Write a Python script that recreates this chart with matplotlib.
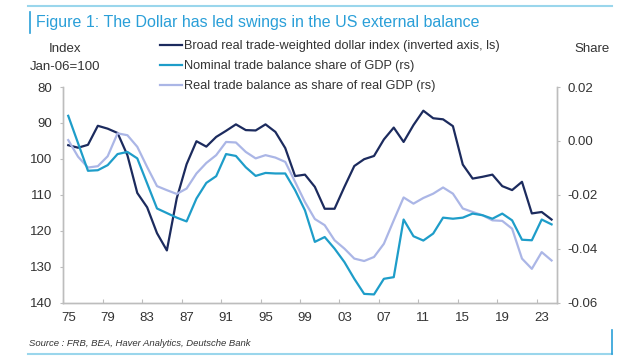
import numpy as np
import matplotlib
matplotlib.use("Agg")
import matplotlib.pyplot as plt
from matplotlib.lines import Line2D

plt.rcParams['font.family'] = ['Liberation Sans', 'DejaVu Sans']
plt.rcParams['axes.unicode_minus'] = False

# annual data, plotted at mid-year
years = np.arange(1975, 2025)

# Broad real trade-weighted dollar index (Jan-06=100), left axis inverted
dollar = [96.2, 96.9, 96.1, 90.8, 91.6, 92.8, 99.0, 109.5, 113.5, 120.7,
          125.5, 111.0, 101.5, 95.1, 96.6, 93.9, 92.2, 90.4, 92.0, 92.1,
          90.4, 92.5, 97.0, 104.8, 104.4, 107.8, 113.9, 113.9, 107.8, 102.0,
          100.1, 99.2, 94.6, 91.3, 95.3, 90.6, 86.6, 88.7, 89.0, 90.9,
          101.6, 105.5, 105.0, 104.4, 107.6, 108.7, 106.4, 115.2, 114.8, 116.9]

# nominal trade balance share of GDP
nominal = [0.0093, -0.0009, -0.0111, -0.0109, -0.0090, -0.0049, -0.0041, -0.0065, -0.0158, -0.0251,
           -0.0268, -0.0285, -0.0299, -0.0214, -0.0156, -0.0131, -0.0049, -0.0056, -0.0098, -0.0130,
           -0.0119, -0.0121, -0.0121, -0.0183, -0.0258, -0.0375, -0.0357, -0.0400, -0.0450, -0.0512,
           -0.0568, -0.0570, -0.0512, -0.0506, -0.0292, -0.0354, -0.0370, -0.0344, -0.0285, -0.0289,
           -0.0285, -0.0270, -0.0276, -0.0289, -0.0270, -0.0295, -0.0367, -0.0369, -0.0292, -0.0310]

# real trade balance as share of real GDP
real = [0.0003, -0.0059, -0.0099, -0.0094, -0.0057, 0.0028, 0.0021, -0.0022, -0.0097, -0.0168,
        -0.0183, -0.0197, -0.0177, -0.0121, -0.0082, -0.0053, -0.0004, -0.0006, -0.0041, -0.0065,
        -0.0053, -0.0062, -0.0078, -0.0152, -0.0227, -0.0290, -0.0313, -0.0369, -0.0400, -0.0437,
        -0.0446, -0.0431, -0.0382, -0.0295, -0.0210, -0.0233, -0.0212, -0.0196, -0.0173, -0.0196,
        -0.0251, -0.0264, -0.0276, -0.0295, -0.0297, -0.0326, -0.0437, -0.0475, -0.0413, -0.0444]

xtick_years = np.arange(1975, 2024, 4)
xtick_labels = ['%02d' % (y % 100) for y in xtick_years]

c_dark = '#1c2b5e'
c_teal = '#1e9dc9'
c_lav = '#abb6e6'
c_blue = '#2a9fd8'
c_frame = '#9ad6ec'
c_spine = '#bdbdbd'
c_text = '#333333'

W, H = 630, 356
fig = plt.figure(figsize=(W / 100, H / 100), dpi=100)

def fx(x):
    return x / W

def fy(y):
    return 1 - y / H

ax = fig.add_axes([fx(63.3), fy(302.5), fx(556.5) - fx(63.3), fy(87) - fy(302.5)])
ax2 = ax.twinx()

xs = years + 0.5
l1, = ax.plot(xs, dollar, color=c_dark, lw=1.6, zorder=3)
l2, = ax2.plot(xs, nominal, color=c_teal, lw=1.6, zorder=2)
l3, = ax2.plot(xs, real, color=c_lav, lw=1.6, zorder=1)

ax.set_xlim(1975, 2025)
ax.set_ylim(140, 80)
ax.set_yticks([80, 90, 100, 110, 120, 130, 140])
ax2.set_ylim(-0.06, 0.02)
ax2.set_yticks([-0.06, -0.04, -0.02, 0.0, 0.02])
ax2.set_yticklabels(['%.2f' % v for v in [-0.06, -0.04, -0.02, 0.0, 0.02]])

# tick marks at year start, labels centred on the year
ax.set_xticks(xtick_years)
ax.set_xticklabels([])
ax.set_xticks(xtick_years + 0.5, minor=True)
ax.set_xticklabels(xtick_labels, minor=True)
ax.tick_params(axis='x', which='major', direction='in', length=3, color=c_spine)
ax.tick_params(axis='x', which='minor', length=0, pad=6.5, labelsize=9.5, labelcolor=c_text)
ax.tick_params(axis='y', direction='out', length=2.5, pad=5.6, color=c_spine,
               labelsize=9.5, labelcolor=c_text)
ax2.tick_params(axis='y', direction='out', length=2.5, pad=5.6, color=c_spine,
                labelsize=9.5, labelcolor=c_text)

for a in (ax, ax2):
    a.spines['top'].set_visible(False)
    for s in ('left', 'right', 'bottom'):
        a.spines[s].set_color(c_spine)
        a.spines[s].set_linewidth(1.0)
    a.patch.set_visible(False)

# axis captions
fig.text(fx(65), fy(49), 'Index', ha='center', va='center', fontsize=9.5, color=c_text)
fig.text(fx(65), fy(67), 'Jan-06=100', ha='center', va='center', fontsize=9.5, color=c_text)
fig.text(fx(592), fy(49), 'Share', ha='center', va='center', fontsize=9.5, color=c_text)

fig.legend([l1, l2, l3],
           ['Broad real trade-weighted dollar index (inverted axis, ls)',
            'Nominal trade balance share of GDP (rs)',
            'Real trade balance as share of real GDP (rs)'],
           loc='upper left', bbox_to_anchor=(fx(160), fy(40.5)), frameon=False,
           fontsize=9.2, handlelength=1.7, handletextpad=0.15, borderpad=0,
           borderaxespad=0, labelspacing=0.62, labelcolor=c_text)

# title and frame
fig.text(fx(36), fy(22), 'Figure 1: The Dollar has led swings in the US external balance',
         ha='left', va='center', fontsize=11.5, color=c_blue)
fig.add_artist(Line2D([fx(28), fx(612)], [fy(6), fy(6)], color=c_frame, lw=1.5))
fig.add_artist(Line2D([fx(30), fx(30)], [fy(12), fy(33)], color=c_blue, lw=1.2))

fig.text(fx(29), fy(343), 'Source : FRB, BEA, Haver Analytics, Deutsche Bank',
         ha='left', va='center', fontsize=6.8, style='italic', color=c_text)
fig.add_artist(Line2D([fx(28), fx(612)], [fy(354), fy(354)], color=c_frame, lw=1.5))
fig.add_artist(Line2D([fx(612), fx(612)], [fy(330), fy(354)], color=c_blue, lw=1.2))

fig.savefig('out.png', dpi=100)
